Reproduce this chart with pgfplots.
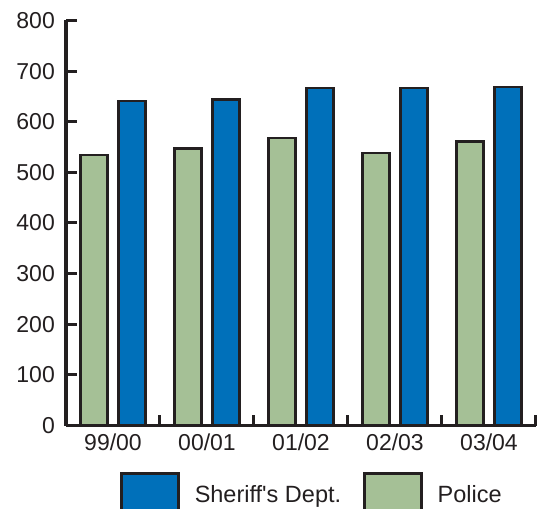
\documentclass[border=0pt]{standalone}
\usepackage{fontspec}
\setmainfont{Liberation Sans}
\usepackage{pgfplots}
\pgfplotsset{compat=1.18}
\definecolor{sheriff}{RGB}{0,112,186}
\definecolor{police}{RGB}{165,192,150}
\definecolor{ink}{RGB}{35,31,32}
\begin{document}
\begin{tikzpicture}
\begin{axis}[
  scale only axis, width=470bp, height=405bp,
  xmin=-0.5, xmax=4.5, ymin=0, ymax=800,
  axis lines=left,
  axis line style={-, line width=3bp, ink},
  tick align=inside,
  xtick={0,1,2,3,4},
  xticklabels={99/00,00/01,01/02,02/03,03/04},
  minor xtick={0.5,1.5,2.5,3.5,4.5},
  ytick={0,100,...,800},
  major tick length=11bp,
  minor tick length=10bp,
  major x tick style={draw=none},
  minor x tick style={line width=3bp, ink},
  ytick style={line width=3bp, ink},
  /pgf/number format/assume math mode=true,
  ticklabel style={font=\fontsize{23bp}{27bp}\selectfont, text=ink},
  yticklabel style={anchor=east, inner sep=0pt, xshift=-11bp},
  xticklabel style={anchor=north, inner sep=0pt, yshift=-8bp},
  legend columns=2,
  legend cell align=left,
  legend image code/.code={\draw[#1, line width=3bp] (0bp,-23bp) rectangle (57bp,21bp);},
  legend style={at={(0.115,-0.1148)}, anchor=north west, draw=none, fill=none, inner sep=0pt,
    nodes={inner sep=0pt, font=\fontsize{23.5bp}{27bp}\selectfont, text=ink},
    /tikz/every odd column/.append style={column sep=14.5bp},
    /tikz/every even column/.append style={column sep=22bp}},
]
\addplot[ybar, bar width=27bp, bar shift=19bp, fill=sheriff, draw=ink, line width=2.2bp]
  coordinates {(0,641) (1,644) (2,666) (3,666) (4,669)};
\addlegendentry{Sheriff\textquotesingle s Dept.}
\addplot[ybar, bar width=27bp, bar shift=-19bp, fill=police, draw=ink, line width=2.2bp]
  coordinates {(0,535) (1,547) (2,568) (3,539) (4,561)};
\addlegendentry{Police}
\end{axis}
\pgfresetboundingbox
\useasboundingbox (-66bp,-83.5bp) rectangle (476bp,425.5bp);
\end{tikzpicture}
\end{document}
